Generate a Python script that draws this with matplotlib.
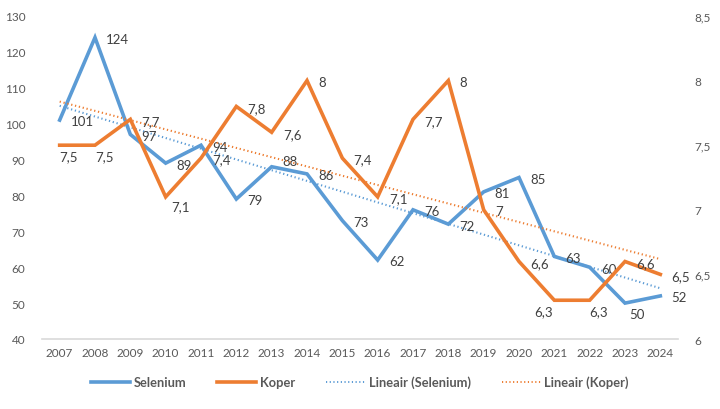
import matplotlib
matplotlib.use("Agg")
import matplotlib.pyplot as plt
import numpy as np

years = [str(y) for y in range(2007, 2025)]
selenium = [101, 124, 97, 89, 94, 79, 88, 86, 73, 62, 76, 72, 81, 85, 63, 60, 50, 52]
koper = [7.5, 7.5, 7.7, 7.1, 7.4, 7.8, 7.6, 8, 7.4, 7.1, 7.7, 8, 7, 6.6, 6.3, 6.3, 6.6, 6.5]
left_ticks = [40, 50, 60, 70, 80, 90, 100, 110, 120, 130]
right_ticks = [6, 6.5, 7, 7.5, 8, 8.5]

BLUE = "#5B9BD5"
ORANGE = "#ED7D31"
TXT = "#595959"
plt.rcParams['font.family'] = ['Lato', 'DejaVu Sans']

fig = plt.figure(figsize=(7.2, 4.1), dpi=100)
ax = fig.add_axes([42/720, 70/410, 636/720, 323/410])
ax2 = ax.twinx()

x = np.arange(len(years))

# trendlines
ps = np.polyfit(x, selenium, 1)
pk = np.polyfit(x, koper, 1)
dots = (0, (0.6, 1.3))
ax.plot(x, np.polyval(ps, x), color=BLUE, lw=1.5, ls=dots, zorder=2)
ax2.plot(x, np.polyval(pk, x), color=ORANGE, lw=1.5, ls=dots, zorder=2)

ax.plot(x, selenium, color=BLUE, lw=2.6, zorder=3, solid_joinstyle='miter')
ax2.plot(x, koper, color=ORANGE, lw=2.6, zorder=3, solid_joinstyle='miter')

ax.set_xlim(-0.5, len(years) - 0.5)
ax.set_ylim(40, 130)
ax2.set_ylim(6, 8.5)
ax.set_yticks(left_ticks)
ax2.set_yticks(right_ticks)
ax.set_yticklabels([str(t) for t in left_ticks])
ax2.set_yticklabels([("%g" % t).replace('.', ',') for t in right_ticks])
ax.set_xticks(x)
ax.set_xticklabels(years)

for a in (ax, ax2):
    for s in ['top', 'left', 'right', 'bottom']:
        a.spines[s].set_visible(False)
    a.tick_params(length=0, colors=TXT, labelsize=8.5)
ax.spines['bottom'].set_visible(True)
ax.spines['bottom'].set_color('#D9D9D9')
ax.spines['bottom'].set_linewidth(1.2)
ax.tick_params(axis='y', pad=12)
ax2.tick_params(axis='y', pad=12)
ax.tick_params(axis='x', pad=6)

fs = 9.5
for i, v in enumerate(selenium):
    dx, dy = 8, -1
    if i == 6:
        dx, dy = 8, 4
    elif i == 16:
        dx, dy = 3, -8
    ax.annotate(str(v), (i, v), xytext=(dx, dy), textcoords='offset points',
                ha='left', va='center', fontsize=fs, color='#404040', zorder=5)

for i, v in enumerate(koper):
    dx, dy = 8, -1
    ha = 'left'
    if i in (0, 1):
        dx, dy = 0, -8
    elif i == 3:
        dx, dy = 4, -7
    elif i == 14:
        dx, dy = -8, -8
        ha = 'center'
    elif i == 15:
        dx, dy = 0, -8
    ax2.annotate(("%g" % v).replace('.', ','), (i, v), xytext=(dx, dy), textcoords='offset points',
                 ha=ha, va='center', fontsize=fs, color='#404040', zorder=5)

from matplotlib.lines import Line2D
handles = [Line2D([], [], color=BLUE, lw=2.6),
           Line2D([], [], color=ORANGE, lw=2.6),
           Line2D([], [], color=BLUE, lw=1.4, ls=dots),
           Line2D([], [], color=ORANGE, lw=1.4, ls=dots)]
labels = ['Selenium', 'Koper', 'Lineair (Selenium)', 'Lineair (Koper)']
leg = fig.legend(handles, labels, loc='center', bbox_to_anchor=(0.5, 1 - 383/410), ncol=4,
                 frameon=False, fontsize=9.3, handlelength=3, handletextpad=0.3, columnspacing=2.4)
for t in leg.get_texts():
    t.set_color(TXT)
    t.set_fontweight('bold')

fig.savefig("out.png", dpi=100)
